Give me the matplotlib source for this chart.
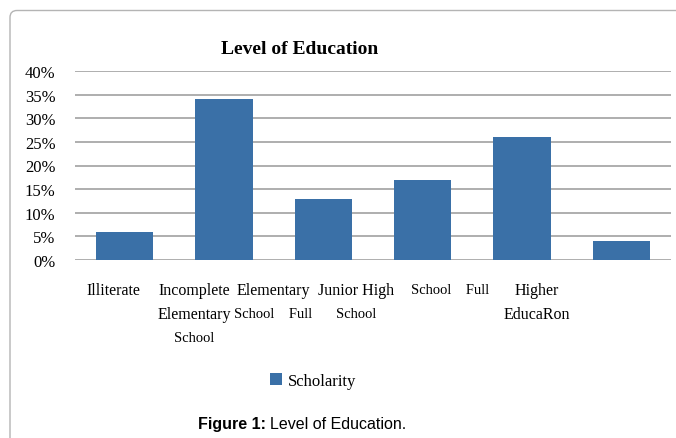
import numpy as np
import matplotlib
matplotlib.use("Agg")
import matplotlib.pyplot as plt
import matplotlib.ticker as mticker
from matplotlib.patches import FancyBboxPatch

# ── Data ──────────────────────────────────────────────────
categories = ["Illiterate", "Incomplete Elementary School", "Elementary School Full",
              "Junior High School", "School Full", "Higher Education"]
# wrapped the way the original chart wraps them
label_lines = [
    ["Illiterate"],
    ["Incomplete", "Elementary", "School"],
    ["Elementary", "School    Full"],
    ["Junior High", "School"],
    ["School    Full"],
    ["Higher", "EducaRon"],
]
values = [0.06, 0.34, 0.13, 0.17, 0.26, 0.04]
series_name = "Scholarity"
yticks = [0.0, 0.05, 0.10, 0.15, 0.20, 0.25, 0.30, 0.35, 0.40]

title = "Level of Education"
caption_bold = "Figure 1:"
caption_rest = "Level of Education."

BAR = "#3A70A7"
GRID = "#A8A8A8"
SERIF = ["Liberation Serif", "DejaVu Serif"]
SANS = ["Liberation Sans", "DejaVu Sans"]

W, H = 676, 439
fig = plt.figure(figsize=(W / 100, H / 100), dpi=100)

# outer frame: only top and left edges show, with a rounded corner
frame = FancyBboxPatch((0.10, -0.5), 8.0, 4.775,
                       boxstyle="round,pad=0,rounding_size=0.07",
                       transform=fig.dpi_scale_trans, fill=False,
                       ec="#B4B4B4", lw=1.0, clip_on=False)
fig.patches.append(frame)

# plot area in pixel terms: x 75..671, y 72..261
AX_TOP, AX_BOT = 72, 261
ax = fig.add_axes([75 / W, 1 - AX_BOT / H, (671 - 75) / W, (AX_BOT - AX_TOP) / H])
x = np.arange(len(categories))
ax.bar(x, values, width=0.575, color=BAR, zorder=3, label=series_name)

ax.set_xlim(-0.5, len(categories) - 0.5)
ax.set_ylim(0, 0.40)
ax.set_yticks(yticks)
ax.yaxis.set_major_formatter(mticker.FuncFormatter(lambda v, p: f"{v * 100:.0f}%"))
ax.grid(axis="y", color=GRID, lw=1.3, zorder=0)
ax.set_axisbelow(True)
for s in ax.spines.values():
    s.set_visible(False)
ax.tick_params(axis="y", length=0, pad=14, labelsize=12)
ax.set_xticks([])
for lab in ax.get_yticklabels():
    lab.set_family(SERIF)

# category labels; the original squeezes them towards the left,
# so their centres (in pixels) do not sit under the bars
label_px = [113, 194, 273, 356, 450, 537]
for px, lines in zip(label_px, label_lines):
    for j, line in enumerate(lines):
        small = line.startswith("School")
        fig.text(px / W, 1 - (AX_BOT + 30 + 24 * j) / H, line,
                 ha="center", va="center",
                 fontsize=10.5 if small else 11.5, family=SERIF)

# title
fig.text(300 / W, 1 - 54 / H, title, ha="center", va="baseline",
         fontsize=14, fontweight="bold", family=SERIF)

# legend
fig.legend(loc="center", bbox_to_anchor=(313 / W, 1 - 382 / H),
           frameon=False, handlelength=0.7, handleheight=0.7,
           handletextpad=0.35, prop={"family": SERIF, "size": 12})

# caption
fig.text(266 / W, 1 - 429 / H, caption_bold, ha="right", va="baseline",
         fontsize=11.5, fontweight="bold", family=SANS)
fig.text(270 / W, 1 - 429 / H, caption_rest, ha="left", va="baseline",
         fontsize=11.5, family=SANS)

fig.savefig("out.png", dpi=100)
